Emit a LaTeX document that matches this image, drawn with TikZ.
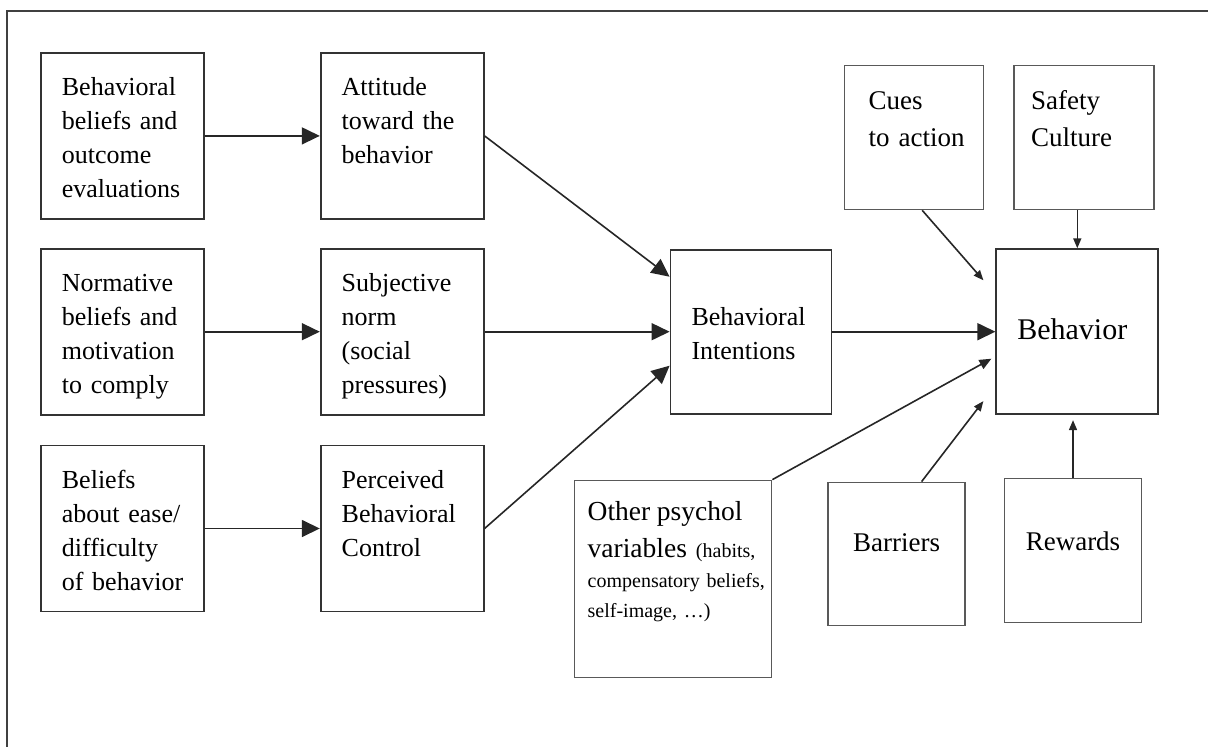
\documentclass[tikz,border=0pt]{standalone}
\usepackage{fontspec}
\setmainfont{Liberation Serif}
\usetikzlibrary{positioning}
\usetikzlibrary{arrows.meta}
\hyphenpenalty=10000 % No broken words in the boxes
\tikzset{x=1pt, y=-1pt, % Pixel grid of the scan, y runs downwards
      block/.style={ % Sets the properties for each box
      draw=black!80,
      line width=1.8pt,
      inner ysep=0pt,
      align=left},
      lbox/.style={ % Boxes of the two left columns, text at the top
      block,
      inner xsep=21pt,
      text width=121pt,
      text height=43pt,
      text depth=123pt,
      font=\fontsize{26}{34}\selectfont},
      rbox/.style={ % Thinner boxes round the behavior
      block,
      draw=black!65,
      line width=1.4pt,
      font=\fontsize{27}{37}\selectfont},
      every edge/.style={ % Sets the properties for each arrow
            draw,
      -{Triangle[length=18pt,width=17pt]}, % Big filled heads
      line width=1.6pt,
      black!85},
      lite/.style={-{Triangle[length=10pt,width=8pt]}}, % Small heads on the right
      mid/.style={-{Triangle[length=12pt,width=10pt]}}}

\begin{document}
\begin{tikzpicture}
      \useasboundingbox (0,0) rectangle (1208,747);
      \draw[line width=2pt, black!75] (7,747) |- (1208,11);

      \node[lbox, anchor=north west] (bb) at (40,52) {Behavioral\\beliefs~and\\outcome\\evaluations};
      \node[lbox, right=115pt of bb] (att) {Attitude\\toward~the\\behavior};
      \node[lbox, below=28pt of bb] (nb) {Normative\\beliefs~and\\motivation\\to~comply};
      \node[lbox, right=115pt of nb] (sn) {Subjective\\norm\\(social\\pressures)};
      \node[lbox, below=29pt of nb] (eb) {Beliefs\\about~ease/\\difficulty\\of~behavior};
      \node[lbox, right=115pt of eb] (pbc) {Perceived\\Behavioral\\Control};

      \node[block, right=185pt of sn, inner xsep=21pt, text width=119pt, text height=76pt, text depth=88pt,
            font=\fontsize{26}{34}\selectfont] (bi) {Behavioral\\Intentions};
      \node[block, right=163pt of bi, inner xsep=21pt, text width=120pt, text height=90pt, text depth=75pt,
            font=\fontsize{30}{36}\selectfont] (beh) {Behavior};

      \node[rbox, above left=38pt and 11pt of beh.north west, inner xsep=24pt, text width=91pt,
            text height=44pt, text depth=100pt] (cues) {Cues\\to~action};
      \node[rbox, right=29pt of cues, inner xsep=17pt, text width=106pt,
            text height=44pt, text depth=100pt] (safety) {Safety\\Culture};
      \node[rbox, below left=65pt and 60pt of bi.south east, inner xsep=13pt, text width=171pt,
            text height=40pt, text depth=157pt, font=\fontsize{20}{30}\selectfont] (other)
            {{\fontsize{27.5}{37}\selectfont Other~psychol}\\[7pt]
            {\fontsize{27.5}{37}\selectfont variables}\nobreak\hspace{9pt}(habits,\\
            compensatory~beliefs,\\self-image,~\dots)};
      \node[rbox, below right=2pt and 55pt of other.north east, inner xsep=0pt, text width=137pt,
            align=center, text height=69pt, text depth=74pt] (bar) {Barriers};
      \node[rbox, right=38pt of bar, yshift=3.5pt, inner xsep=0pt, text width=137pt,
            align=center, text height=72pt, text depth=72pt] (rew) {Rewards};

      \draw (bb) edge (att);
      \draw (nb) edge (sn);
      \draw (eb) edge (pbc);
      \draw (att.east) edge ([yshift=55pt]bi.west);
      \draw (sn) edge (bi);
      \draw (pbc.east) edge ([yshift=-34pt]bi.west);
      \draw (bi) edge (beh);
      \draw (other.north east) edge[mid] ([xshift=-4pt,yshift=-27pt]beh.west);
      \draw ([xshift=8pt]cues.south) edge[lite] ([xshift=-12pt,yshift=-32pt]beh.north west);
      \draw (beh.north |- safety.south) edge[lite] (beh.north);
      \draw ([xshift=25pt]bar.north) edge[lite] ([xshift=-12pt,yshift=14pt]beh.south west);
      \draw (rew.north) edge[lite, shorten >=5pt] (rew.north |- beh.south);
\end{tikzpicture}
\end{document}
